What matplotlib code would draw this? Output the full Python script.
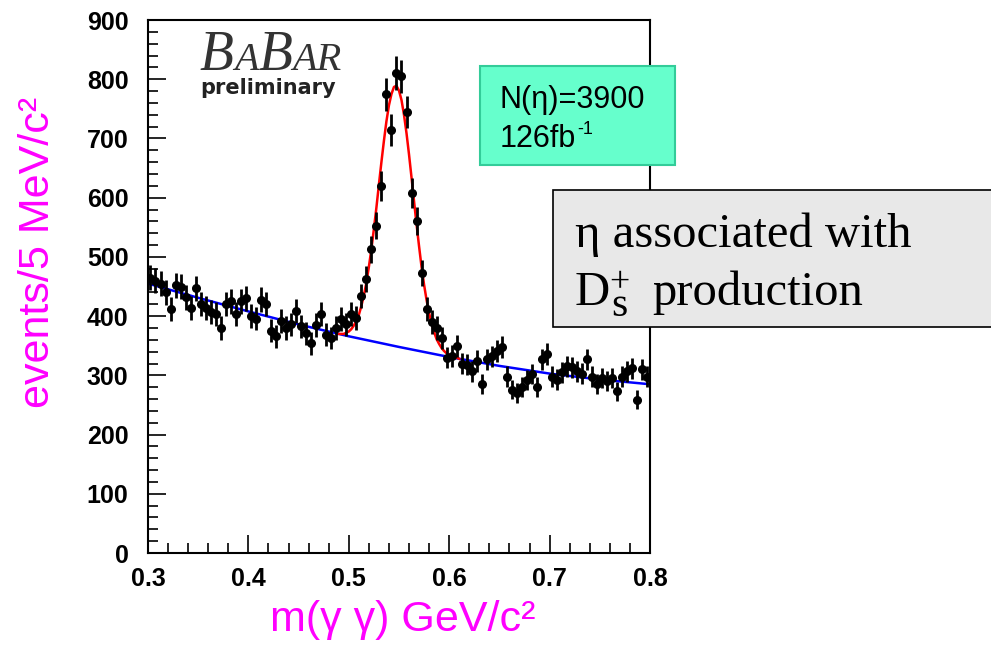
import matplotlib
matplotlib.use("Agg")
import matplotlib.pyplot as plt
import numpy as np
from matplotlib.patches import Rectangle
from matplotlib.ticker import MultipleLocator
from matplotlib.offsetbox import TextArea, HPacker, AnnotationBbox

plt.rcParams['font.family'] = ['Liberation Sans', 'DejaVu Sans']

# m(gamma gamma) histogram, 5 MeV bins from 0.3 to 0.8 GeV
bin_edges = np.linspace(0.3, 0.8, 101)
counts = [465, 460, 455, 440, 412, 452, 450, 432, 413, 447,
          420, 413, 407, 404, 380, 420, 425, 403, 425, 430,
          400, 396, 428, 420, 375, 366, 392, 380, 386, 408,
          383, 371, 354, 385, 403, 369, 363, 380, 395, 386,
          403, 397, 434, 463, 513, 553, 620, 775, 714, 810,
          805, 745, 608, 561, 473, 412, 390, 380, 363, 330,
          333, 349, 320, 318, 307, 324, 286, 327, 332, 341,
          348, 298, 276, 270, 280, 292, 302, 281, 327, 336,
          298, 293, 305, 315, 314, 307, 303, 327, 298, 286,
          295, 290, 295, 273, 298, 307, 312, 259, 310, 298]

# background fit (blue)
bkg_mass = [0.30, 0.35, 0.40, 0.45, 0.50, 0.55, 0.60, 0.65, 0.70, 0.75, 0.80]
bkg_fit = [455, 431, 408, 386, 366, 348, 331, 316, 303, 293, 285]

# signal + background fit (red), 0.49 - 0.61 GeV
sig_mass = np.linspace(0.49, 0.61, 49)
sig_fit = [370, 370, 370, 372, 374, 378, 384, 392, 402, 417,
           435, 456, 483, 513, 547, 583, 622, 660, 696, 729,
           756, 775, 787, 789, 781, 765, 740, 709, 673, 634,
           594, 555, 518, 483, 453, 427, 405, 387, 373, 361,
           353, 346, 341, 337, 335, 333, 331, 330, 328]

counts = np.array(counts)
centers = 0.5 * (bin_edges[:-1] + bin_edges[1:])
half_bin = 0.5 * (bin_edges[1] - bin_edges[0])

fig = plt.figure(figsize=(9.91, 6.51), dpi=100)
ax = fig.add_axes([0.1493, 0.1505, 0.5066, 0.8187])

ax.plot(bkg_mass, bkg_fit, color='#0000ff', lw=1.8, zorder=2)
ax.plot(sig_mass, sig_fit, color='#ff0000', lw=1.8, zorder=2)
ax.errorbar(centers, counts, yerr=np.sqrt(counts), xerr=half_bin, fmt='o',
            color='black', ms=5.5, elinewidth=2.0, capsize=0, zorder=3)

ax.set_xlim(0.3, 0.8)
ax.set_ylim(0, 900)
ax.set_xticks([0.3, 0.4, 0.5, 0.6, 0.7, 0.8])
ax.set_xticklabels(['0.3', '0.4', '0.5', '0.6', '0.7', '0.8'])
ax.set_yticks(range(0, 901, 100))
ax.xaxis.set_minor_locator(MultipleLocator(0.02))
ax.yaxis.set_minor_locator(MultipleLocator(20))
ax.tick_params(which='both', direction='in', top=False, right=False, width=1.2)
ax.tick_params(which='major', length=13, labelsize=18)
ax.tick_params(which='minor', length=7)
ax.tick_params(axis='x', which='major', pad=10)
ax.tick_params(axis='y', which='major', pad=14)
for lab in ax.get_xticklabels() + ax.get_yticklabels():
    lab.set_fontweight('bold')
for sp in ax.spines.values():
    sp.set_linewidth(1.5)

ax.set_xlabel('m(γ γ) GeV/c²', color='#ff00ff', fontsize=31, va='center')
ax.xaxis.set_label_coords(0.508, -0.126)
ax.set_ylabel('events/5 MeV/c²', color='#ff00ff', fontsize=31, va='center')
ax.yaxis.set_label_coords(-0.219, 0.565)

# BaBar logo
big = dict(family='Liberation Serif', style='italic', fontsize=40, color='#333333')
small = dict(family='Liberation Serif', style='italic', fontsize=29, color='#333333')
logo = HPacker(children=[TextArea('B', textprops=big), TextArea('A', textprops=small),
                         TextArea('B', textprops=big), TextArea('AR', textprops=small)],
               align='baseline', pad=0, sep=0)
ab = AnnotationBbox(logo, (0.1036, 0.906), xycoords='axes fraction',
                    box_alignment=(0, 0.22), frameon=False, pad=0)
ax.add_artist(ab)
ax.text(0.1036, 0.862, 'preliminary', family='DejaVu Sans', fontweight='bold',
        fontsize=15, color='#222222', va='baseline', transform=ax.transAxes)

# yield box
fig.add_artist(Rectangle((480 / 991, 1 - 165 / 651), 195 / 991, 99 / 651,
                         transform=fig.transFigure, facecolor='#66ffcc',
                         edgecolor='#33cc99', lw=1.5))
fig.text(500 / 991, 1 - 108 / 651, 'N(η)=3900', fontsize=22, va='baseline')
fig.text(500 / 991, 1 - 147 / 651, '126fb', fontsize=22, va='baseline')
fig.text(577 / 991, 1 - 134 / 651, '-1', fontsize=13, va='baseline')

# comment box
fig.add_artist(Rectangle((553 / 991, 1 - 327 / 651), 460 / 991, 137 / 651,
                         transform=fig.transFigure, facecolor='#e8e8e8',
                         edgecolor='black', lw=1.2))
serif = dict(family='Liberation Serif', va='baseline')
fig.text(575 / 991, 1 - 247 / 651, 'η associated with', fontsize=35, **serif)
fig.text(575 / 991, 1 - 305 / 651, 'D', fontsize=35, **serif)
fig.text(611 / 991, 1 - 316 / 651, 's', fontsize=30, **serif)
fig.text(609 / 991, 1 - 292 / 651, '+', fontsize=26, **serif)
fig.text(652 / 991, 1 - 305 / 651, 'production', fontsize=35, **serif)

fig.savefig('out.png', dpi=100)
